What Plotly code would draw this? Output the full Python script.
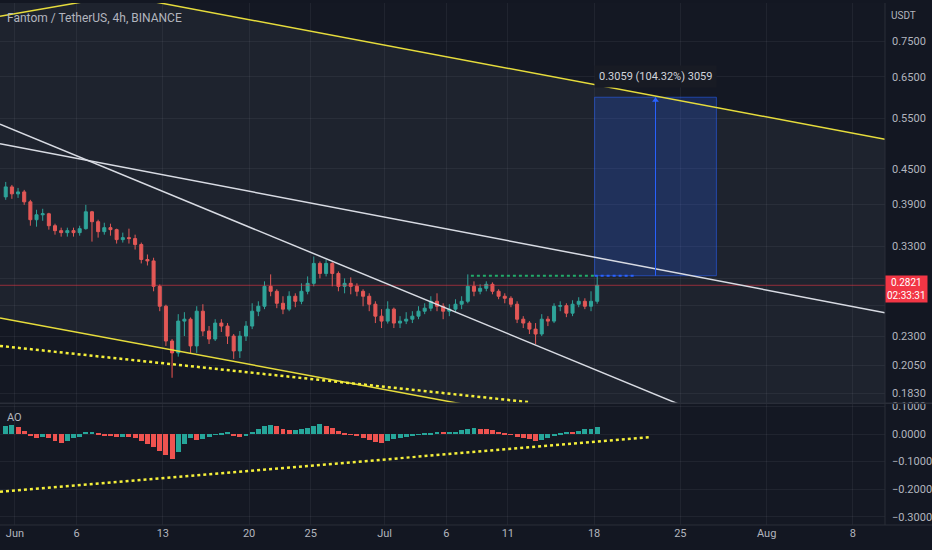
import math
import pandas as pd
import plotly.graph_objects as go

# FTM/USDT, one candle per 12h from 31 May to 18 Jul 2022
first_open = 0.4019
closes = [0.4183, 0.4068, 0.4100, 0.3940, 0.3668, 0.3741, 0.3756, 0.3581, 0.3511, 0.3483,
          0.3511, 0.3483, 0.3539, 0.3786, 0.3639, 0.3497, 0.3553, 0.3525, 0.3387, 0.3414,
          0.3401, 0.3321, 0.3128, 0.3110, 0.2809, 0.2594, 0.2257, 0.2152, 0.2444, 0.2463,
          0.2213, 0.2543, 0.2349, 0.2275, 0.2425, 0.2396, 0.2302, 0.2169, 0.2302, 0.2396,
          0.2543, 0.2594, 0.2809, 0.2754, 0.2625, 0.2564, 0.2700, 0.2646, 0.2754, 0.2843,
          0.3079, 0.2958, 0.3079, 0.2958, 0.2809, 0.2843, 0.2809, 0.2754, 0.2700, 0.2615,
          0.2493, 0.2444, 0.2564, 0.2425, 0.2444, 0.2463, 0.2493, 0.2543, 0.2574, 0.2646,
          0.2594, 0.2543, 0.2564, 0.2615, 0.2646, 0.2809, 0.2754, 0.2787, 0.2832, 0.2754,
          0.2700, 0.2678, 0.2615, 0.2463, 0.2425, 0.2367, 0.2321, 0.2463, 0.2444, 0.2594,
          0.2600, 0.2523, 0.2615, 0.2646, 0.2594, 0.2646, 0.2821]
highs = [0.4267, 0.4216, 0.4166, 0.4133, 0.3972, 0.3817, 0.3832, 0.3771, 0.3610, 0.3553,
         0.3553, 0.3553, 0.3581, 0.3893, 0.3800, 0.3668, 0.3624, 0.3610, 0.3539, 0.3483,
         0.3539, 0.3455, 0.3347, 0.3191, 0.3150, 0.2830, 0.2610, 0.2275, 0.2513, 0.2533,
         0.2480, 0.2594, 0.2615, 0.2396, 0.2463, 0.2463, 0.2425, 0.2321, 0.2349, 0.2444,
         0.2625, 0.2646, 0.2866, 0.2947, 0.2776, 0.2700, 0.2754, 0.2732, 0.2843, 0.2923,
         0.3166, 0.3103, 0.3128, 0.3095, 0.2982, 0.2900, 0.2912, 0.2843, 0.2776, 0.2732,
         0.2646, 0.2564, 0.2646, 0.2580, 0.2493, 0.2533, 0.2543, 0.2594, 0.2625, 0.2700,
         0.2732, 0.2625, 0.2615, 0.2668, 0.2700, 0.2947, 0.2866, 0.2832, 0.2866, 0.2854,
         0.2776, 0.2732, 0.2700, 0.2646, 0.2493, 0.2444, 0.2425, 0.2513, 0.2493, 0.2625,
         0.2646, 0.2625, 0.2657, 0.2689, 0.2678, 0.2754, 0.2935]
lows = [0.3972, 0.3988, 0.4003, 0.3893, 0.3581, 0.3567, 0.3653, 0.3525, 0.3455, 0.3428,
        0.3428, 0.3428, 0.3441, 0.3525, 0.3360, 0.3414, 0.3455, 0.3441, 0.3334, 0.3347,
        0.3334, 0.3255, 0.3079, 0.3054, 0.2754, 0.2543, 0.2213, 0.1948, 0.2120, 0.2302,
        0.2152, 0.2152, 0.2302, 0.2230, 0.2257, 0.2340, 0.2230, 0.2101, 0.2109, 0.2257,
        0.2367, 0.2493, 0.2564, 0.2700, 0.2574, 0.2513, 0.2543, 0.2584, 0.2615, 0.2721,
        0.2809, 0.2900, 0.2923, 0.2809, 0.2754, 0.2732, 0.2721, 0.2700, 0.2594, 0.2543,
        0.2425, 0.2377, 0.2420, 0.2377, 0.2377, 0.2415, 0.2425, 0.2463, 0.2513, 0.2543,
        0.2543, 0.2463, 0.2493, 0.2533, 0.2564, 0.2625, 0.2700, 0.2721, 0.2754, 0.2721,
        0.2668, 0.2625, 0.2584, 0.2425, 0.2377, 0.2321, 0.2230, 0.2302, 0.2396, 0.2425,
        0.2543, 0.2483, 0.2493, 0.2584, 0.2564, 0.2543, 0.2620]
# Awesome Oscillator, same candles
ao_values = [0.030, 0.035, 0.025, 0.012, -0.005, -0.015, -0.010, -0.015, -0.025, -0.030,
             -0.025, -0.015, -0.008, 0.008, 0.010, 0.002, -0.004, -0.006, -0.008, -0.008,
             -0.010, -0.015, -0.025, -0.035, -0.045, -0.060, -0.075, -0.088, -0.065, -0.035,
             -0.015, -0.020, -0.018, -0.008, -0.002, 0.004, 0.008, -0.006, -0.010, -0.004,
             0.010, 0.020, 0.030, 0.035, 0.030, 0.018, 0.015, 0.016, 0.018, 0.022,
             0.032, 0.036, 0.030, 0.022, 0.012, 0.005, -0.002, -0.006, -0.012, -0.020,
             -0.028, -0.032, -0.025, -0.018, -0.012, -0.008, -0.004, -0.002, 0.002, 0.006,
             0.010, 0.008, 0.008, 0.010, 0.014, 0.018, 0.022, 0.020, 0.018, 0.015,
             0.010, 0.005, -0.002, -0.008, -0.013, -0.018, -0.024, -0.020, -0.012, -0.004,
             0.004, 0.010, 0.008, 0.012, 0.018, 0.020, 0.026]

last_price = 0.2821
# 0.29 and 0.26 sit under the last-price tag: keep their grid lines, no label
price_ticks = [0.75, 0.65, 0.55, 0.45, 0.39, 0.33, 0.29, 0.26, 0.23, 0.205, 0.183]
price_labels = ["0.7500", "0.6500", "0.5500", "0.4500", "0.3900", "0.3300", "", "",
                "0.2300", "0.2050", "0.1830"]
ao_ticks = [0.1, 0.0, -0.1, -0.2, -0.3]
date_ticks = ["2022-06-01", "2022-06-06", "2022-06-13", "2022-06-20", "2022-06-25", "2022-07-01",
              "2022-07-06", "2022-07-11", "2022-07-18", "2022-07-25", "2022-08-01", "2022-08-08"]
date_labels = ["Jun", "6", "13", "20", "25", "Jul", "6", "11", "18", "25", "Aug", "8"]

# drawings (date, price)
channel_top = (["2022-06-11 22:20", "2022-08-10 14:34"], [0.8807, 0.5063])
channel_bottom = (["2022-05-30 18:51", "2022-07-07 20:12"], [0.2476, 0.1745])
channel_area = (["2022-05-30 18:51", "2022-08-10 14:34", "2022-08-10 14:34", "2022-05-30 18:51"],
                [0.9855, 0.5063, 0.1281, 0.2476])
top_left_line = (["2022-05-30 18:51", "2022-06-07 01:45"], [0.8285, 0.8816])
white_line_a = (["2022-05-30 18:51", "2022-07-26 11:11"], [0.5375, 0.1697])
white_line_b = (["2022-05-30 18:51", "2022-08-10 14:34"], [0.4973, 0.2528])
support_dots = (["2022-05-30 18:51", "2022-07-12 16:48"], [0.2213, 0.1767])
ao_dots = (["2022-05-30 18:51", "2022-07-22 11:57"], [-0.2097, -0.0115])
range_start, range_mid, range_end = "2022-07-18 01:00", "2022-07-22 23:37", "2022-07-27 22:09"
range_low, range_high = 0.2931, 0.5990
breakout_start = "2022-07-08 00:00"
breakout_end = "2022-07-21 08:44"

x_start, x_end = "2022-05-30 18:51", "2022-08-10 14:34"

times = pd.date_range("2022-05-31 06:00", periods=len(closes), freq="12h")
opens = [first_open] + closes[:-1]

UP, DOWN = "#26a69a", "#ef5350"
YELLOW = "#e6dc3c"
WHITE = "#d8dbe3"
TXT = "#b2b5be"
FONT = "Roboto"

fig = go.Figure()

# channel fill
fig.add_trace(go.Scatter(x=channel_area[0], y=channel_area[1], fill="toself", mode="lines",
                         line=dict(width=0), fillcolor="rgba(130,135,150,0.10)",
                         hoverinfo="skip", showlegend=False))

# price range box
fig.add_trace(go.Scatter(x=[range_start, range_end, range_end, range_start, range_start],
                         y=[range_low, range_low, range_high, range_high, range_low],
                         fill="toself", mode="lines", line=dict(color="rgba(41,98,255,0.55)", width=1),
                         fillcolor="rgba(41,98,255,0.22)", hoverinfo="skip", showlegend=False))

fig.add_trace(go.Candlestick(x=times, open=opens, high=highs, low=lows, close=closes,
                             increasing=dict(line=dict(color=UP, width=1), fillcolor=UP),
                             decreasing=dict(line=dict(color=DOWN, width=1), fillcolor=DOWN),
                             whiskerwidth=0, showlegend=False, hoverinfo="skip"))

fig.add_trace(go.Scatter(x=[x_start, x_end], y=[last_price, last_price], mode="lines",
                         line=dict(color="rgba(242,54,69,0.55)", width=1),
                         hoverinfo="skip", showlegend=False))

def line(xy, color, width=1.5, dash="solid", yaxis="y"):
    fig.add_trace(go.Scatter(x=xy[0], y=xy[1], mode="lines", yaxis=yaxis,
                             line=dict(color=color, width=width, dash=dash),
                             hoverinfo="skip", showlegend=False))

line(channel_top, YELLOW)
line(channel_bottom, YELLOW)
line(top_left_line, YELLOW)
line(white_line_a, WHITE)
line(white_line_b, WHITE)
line(support_dots, "#f5f03a", width=2.5, dash="dot")
line(([breakout_start, range_start], [range_low, range_low]), "#22ab6a", width=2, dash="dot")
line(([range_start, breakout_end], [range_low, range_low]), "#2962ff", width=2, dash="dot")

# arrow inside the range box
fig.add_trace(go.Scatter(x=[range_mid, range_mid], y=[range_low, range_high], mode="lines",
                         line=dict(color="#2962ff", width=1), hoverinfo="skip", showlegend=False))
fig.add_trace(go.Scatter(x=[range_mid], y=[0.592], mode="markers",
                         marker=dict(symbol="triangle-up", size=6, color="#2962ff"),
                         hoverinfo="skip", showlegend=False))

# AO pane
ao_colors = [UP if i == 0 or v >= ao_values[i - 1] else DOWN for i, v in enumerate(ao_values)]
fig.add_trace(go.Bar(x=times, y=ao_values, yaxis="y2", marker=dict(color=ao_colors, line=dict(width=0)),
                     width=12 * 3600 * 1000 * 0.8, hoverinfo="skip", showlegend=False))
line(ao_dots, "#f5f03a", width=2.5, dash="dot", yaxis="y2")

grid = "rgba(240,243,250,0.06)"
fig.update_layout(
    width=932, height=550,
    margin=dict(l=0, r=45, t=0, b=25),
    paper_bgcolor="#131722", plot_bgcolor="#141823",
    font=dict(family=FONT, color=TXT, size=11),
    bargap=0,
    xaxis=dict(type="date", range=[x_start, x_end], anchor="y2", domain=[0, 1],
               tickvals=date_ticks, ticktext=date_labels, showgrid=True, gridcolor=grid,
               zeroline=False, showline=False, ticks="", rangeslider=dict(visible=False),
               tickfont=dict(size=11, color=TXT)),
    yaxis=dict(type="log", domain=[0.2343, 1], side="right", anchor="x",
               range=[math.log10(0.1763), math.log10(0.8735)],
               tickvals=price_ticks, ticktext=price_labels, showgrid=True, gridcolor=grid,
               zeroline=False, ticks="", ticklabelstandoff=6, tickfont=dict(size=11, color=TXT)),
    yaxis2=dict(domain=[0, 0.2324], side="right", anchor="x", range=[-0.33, 0.11],
                tickvals=ao_ticks, tickformat=".4f", showgrid=True, gridcolor=grid,
                zeroline=False, ticks="", ticklabelstandoff=6, tickfont=dict(size=11, color=TXT)),
)

border = "#2a2e39"
fig.add_shape(type="line", xref="paper", yref="paper", x0=0, x1=1.06, y0=0.2333, y1=0.2333,
              line=dict(color=border, width=1.5))
fig.add_shape(type="line", xref="paper", yref="paper", x0=0, x1=1.06, y0=0, y1=0,
              line=dict(color=border, width=1))
fig.add_shape(type="line", xref="paper", yref="paper", x0=1, x1=1, y0=0, y1=1,
              line=dict(color=border, width=1))

def note(x, y, text, size=11, color=TXT, xanchor="center", **kw):
    fig.add_annotation(xref="paper", yref="paper", x=x, y=y, xanchor=xanchor, yanchor="middle",
                       text=text, showarrow=False, font=dict(size=size, color=color), **kw)

# last price tag
note(1.0248, 0.4524, "0.2821<br>02:33:31", size=10, color="white", bgcolor="#f23645", borderpad=1)
note(0.006, 0.9714, "Fantom / TetherUS, 4h, BINANCE", size=12, xanchor="left")
note(1.021, 0.977, "USDT", size=10)
note(0.006, 0.206, "AO", xanchor="left")
note(0.7407, 0.859, "0.3059 (104.32%) 3059", color="#d1d4dc", bgcolor="#181b24", borderpad=4)

fig.write_html("out.html", config={"displayModeBar": False},
               post_script="document.body.style.margin='0';")
